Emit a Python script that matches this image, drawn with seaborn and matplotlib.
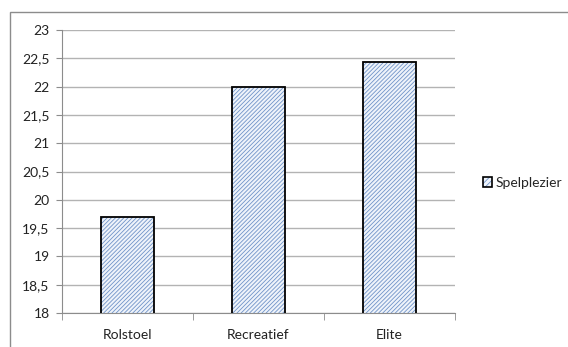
import matplotlib
matplotlib.use("Agg")
import matplotlib.pyplot as plt
import matplotlib.patches as mpatches
from matplotlib.legend_handler import HandlerTuple
import seaborn as sns
import pandas as pd

categories = ["Rolstoel", "Recreatief", "Elite"]
values = [19.7, 22.0, 22.44]
series_name = "Spelplezier"
yticks = [18, 18.5, 19, 19.5, 20, 20.5, 21, 21.5, 22, 22.5, 23]
ytick_labels = ["18", "18,5", "19", "19,5", "20", "20,5", "21", "21,5", "22", "22,5", "23"]

sns.set_style("white")
plt.rcParams["font.family"] = ["Lato", "DejaVu Sans"]
plt.rcParams["hatch.linewidth"] = 0.6

df = pd.DataFrame({"cat": categories, "val": values})

fig = plt.figure(figsize=(5.68, 3.47), dpi=100)
ax = fig.add_axes([62/568, 1-313/347, (455-62)/568, (313-30)/347])

hatch_blue = "#6f93c8"
face = "#eef3fa"
sns.barplot(data=df, x="cat", y="val", ax=ax, color="white", width=0.4,
            edgecolor=hatch_blue, linewidth=0, hatch="////////", zorder=2)
sns.barplot(data=df, x="cat", y="val", ax=ax, fill=False, width=0.4,
            edgecolor="black", linewidth=1.3, zorder=3)
for p in ax.patches[:len(categories)]:
    p.set_facecolor(face)

ax.set_ylim(18, 23)
ax.set_xlim(-0.5, 2.5)
ax.set_yticks(yticks)
ax.set_yticklabels(ytick_labels)
ax.set_xlabel("")
ax.set_ylabel("")
ax.yaxis.grid(True, color="#b3b3b3", linewidth=1)
ax.set_axisbelow(True)

for s in ["top", "right"]:
    ax.spines[s].set_visible(False)
ax.spines["left"].set_color("#8c8c8c")
ax.spines["bottom"].set_color("#8c8c8c")

ax.tick_params(axis="y", which="major", left=True, length=4, color="#8c8c8c",
               labelsize=10, pad=5, labelcolor="#222222")
ax.tick_params(axis="x", which="major", bottom=False, labelsize=10, pad=8,
               labelcolor="#222222")
ax.set_xticks([-0.5, 0.5, 1.5, 2.5], minor=True)
ax.tick_params(axis="x", which="minor", bottom=True, length=5, color="#8c8c8c")

# outer chart border
border = mpatches.Rectangle((10/568, -0.1), 1.2, 1 - 12/347 + 0.1,
                            transform=fig.transFigure, fill=False,
                            edgecolor="#8c8c8c", linewidth=1, clip_on=False)
fig.patches.append(border)

h_fill = mpatches.Patch(facecolor=face, edgecolor=hatch_blue, hatch="//////",
                        linewidth=0)
h_edge = mpatches.Patch(facecolor="none", edgecolor="black", linewidth=1.2)
leg = fig.legend([(h_fill, h_edge)], [series_name], loc="center left",
                 bbox_to_anchor=(477/568, 1-183/347), frameon=False,
                 fontsize=10, handlelength=0.7, handleheight=0.7,
                 handletextpad=0.25, borderaxespad=0,
                 handler_map={tuple: HandlerTuple(ndivide=1)})

fig.savefig("out.png", dpi=100)
